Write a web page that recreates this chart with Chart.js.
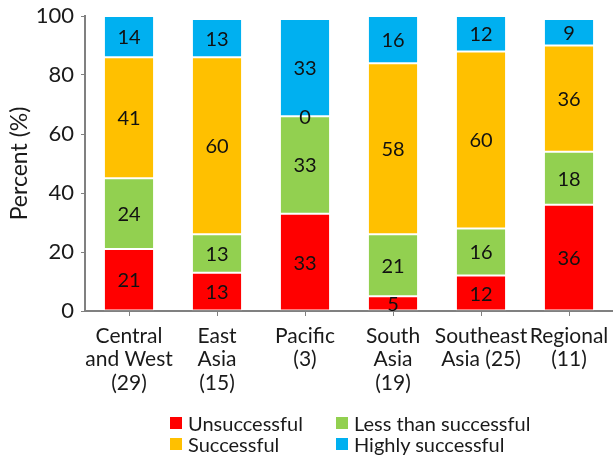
<!DOCTYPE html>
<html>
<head>
<meta charset="utf-8">
<script src="https://cdn.jsdelivr.net/npm/chart.js@4"></script>
<style>
    body { margin: 0; background: #fff; }
    #wrap { position: relative; width: 613px; height: 455px; }
    #legend {
        position: absolute; left: 170px; top: 413px;
        display: grid; grid-template-columns: 166px 240px; row-gap: 1px;
        font-family: Lato, sans-serif; font-size: 20px; color: #1a1a1a;
    }
    #legend div { display: flex; align-items: center; height: 20px; white-space: nowrap; }
    #legend span { display: inline-block; width: 12px; height: 12px; margin-right: 6px; }
</style>
</head>
<body>
<div id="wrap">
    <canvas id="chart" width="613" height="455"></canvas>
    <div id="legend"></div>
</div>
<script>
const regions = [
    ['Central', 'and West', '(29)'],
    ['East', 'Asia', '(15)'],
    ['Pacific', '(3)'],
    ['South', 'Asia', '(19)'],
    ['Southeast', 'Asia (25)'],
    ['Regional', '(11)']
];
const unsuccessful = [21, 13, 33, 5, 12, 36];
const lessThanSuccessful = [24, 13, 33, 21, 16, 18];
const successful = [41, 60, 0, 58, 60, 36];
const highlySuccessful = [14, 13, 33, 16, 12, 9];
const yTicks = [0, 20, 40, 60, 80, 100];

const fontName = 'Lato, sans-serif';

// writes each segment's value in the middle of it
const segmentLabels = {
    id: 'segmentLabels',
    afterDatasetsDraw(chart) {
        let ctx = chart.ctx;
        ctx.save();
        ctx.font = '20px ' + fontName;
        ctx.fillStyle = '#111';
        ctx.textAlign = 'center';
        ctx.textBaseline = 'middle';
        chart.data.datasets.forEach(function (ds, i) {
            chart.getDatasetMeta(i).data.forEach(function (bar, j) {
                let p = bar.getProps(['x', 'y', 'base'], true);
                ctx.fillText(ds.data[j], p.x, (p.y + p.base) / 2 + 1);
            });
        });
        ctx.restore();
    }
};

function series(label, data, color) {
    return {
        label: label,
        data: data,
        backgroundColor: color,
        borderColor: 'rgba(255,255,255,0.35)',
        borderWidth: 1,
        borderSkipped: false
    };
}

let ctx = document.getElementById('chart').getContext('2d');
let chart = new Chart(ctx, {
    type: 'bar',
    data: {
        labels: regions,
        datasets: [
            series('Unsuccessful', unsuccessful, '#ff0000'),
            series('Less than successful', lessThanSuccessful, '#92d050'),
            series('Successful', successful, '#ffc000'),
            series('Highly successful', highlySuccessful, '#00b0f0')
        ]
    },
    options: {
        responsive: false,
        animation: false,
        layout: { padding: { top: 16, right: 0, bottom: 0, left: 0 } },
        datasets: { bar: { categoryPercentage: 1, barPercentage: 0.57 } },
        plugins: {
            legend: { display: false },
            tooltip: { enabled: false }
        },
        scales: {
            x: {
                stacked: true,
                afterFit: function (scale) {
                    scale.height = 144;
                    scale.paddingRight = 0;
                },
                border: { color: '#808080', width: 2 },
                grid: { offset: false, drawOnChartArea: false, color: '#808080', tickLength: 5 },
                ticks: {
                    color: '#1a1a1a',
                    font: { family: fontName, size: 21, lineHeight: 1.1 },
                    maxRotation: 0,
                    autoSkip: false,
                    padding: 9
                }
            },
            y: {
                stacked: true,
                min: 0,
                max: 100,
                afterFit: function (scale) {
                    scale.width = 85;
                    scale.paddingTop = 0;
                },
                afterBuildTicks: function (scale) {
                    scale.ticks = yTicks.map(function (v) { return { value: v }; });
                },
                border: { color: '#808080', width: 2 },
                grid: { drawOnChartArea: false, color: '#808080', tickLength: 4 },
                ticks: {
                    color: '#1a1a1a',
                    font: { family: fontName, size: 22 },
                    padding: 7
                },
                title: {
                    display: true,
                    text: 'Percent (%)',
                    color: '#1a1a1a',
                    font: { family: fontName, size: 23 },
                    padding: { top: 6, bottom: 0 }
                }
            }
        }
    },
    plugins: [segmentLabels]
});

// two-column legend under the axis
let legend = document.getElementById('legend');
chart.data.datasets.forEach(function (ds) {
    let item = document.createElement('div');
    item.innerHTML = '<span style="background:' + ds.backgroundColor + '"></span>' + ds.label;
    legend.appendChild(item);
});
</script>
</body>
</html>
